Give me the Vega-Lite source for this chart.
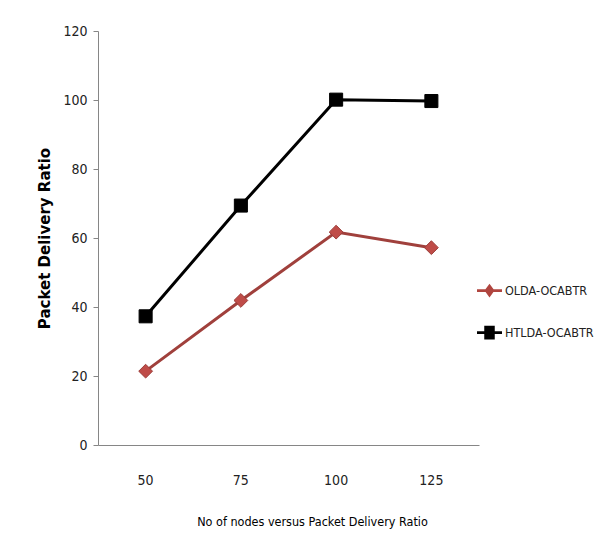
{
  "$schema": "https://vega.github.io/schema/vega-lite/v6.json",
  "autosize": "none",
  "width": 381,
  "height": 414,
  "padding": {"left": 98, "top": 31, "right": 123, "bottom": 112},
  "background": "white",
  "config": {
    "view": {"stroke": null},
    "font": "DejaVu Sans Condensed"
  },
  "data": {
    "values": [
      {"nodes": "50", "series": "OLDA-OCABTR", "pdr": 21.4},
      {"nodes": "75", "series": "OLDA-OCABTR", "pdr": 41.9},
      {"nodes": "100", "series": "OLDA-OCABTR", "pdr": 61.7},
      {"nodes": "125", "series": "OLDA-OCABTR", "pdr": 57.2},
      {"nodes": "50", "series": "HTLDA-OCABTR", "pdr": 37.3},
      {"nodes": "75", "series": "HTLDA-OCABTR", "pdr": 69.4},
      {"nodes": "100", "series": "HTLDA-OCABTR", "pdr": 100.1},
      {"nodes": "125", "series": "HTLDA-OCABTR", "pdr": 99.7}
    ]
  },
  "encoding": {
    "x": {
      "field": "nodes",
      "type": "ordinal",
      "sort": ["50", "75", "100", "125"],
      "scale": {"type": "band", "paddingInner": 0, "paddingOuter": 0},
      "axis": {
        "title": "No of nodes versus Packet Delivery Ratio",
        "titleFont": "DejaVu Sans Condensed",
        "titleFontSize": 12.5,
        "titleFontWeight": "normal",
        "titleColor": "#000000",
        "titlePadding": 28,
        "titleX": 214,
        "titleAnchor": "middle",
        "labelAngle": 0,
        "labelFont": "DejaVu Sans Condensed",
        "labelFontSize": 14,
        "labelColor": "#222222",
        "labelPadding": 28,
        "ticks": false,
        "domainColor": "#868686",
        "domainWidth": 1,
        "grid": false
      }
    },
    "y": {
      "field": "pdr",
      "type": "quantitative",
      "scale": {"domain": [0, 120], "nice": false},
      "axis": {
        "title": "Packet Delivery Ratio",
        "titleFont": "DejaVu Sans",
        "titleFontSize": 15,
        "titleFontWeight": "bold",
        "titleColor": "#000000",
        "titlePadding": 10,
        "values": [0, 20, 40, 60, 80, 100, 120],
        "labelFont": "DejaVu Sans Condensed",
        "labelFontSize": 14,
        "labelColor": "#222222",
        "labelPadding": 6,
        "tickSize": 5,
        "tickColor": "#868686",
        "domainColor": "#868686",
        "grid": false
      }
    }
  },
  "layer": [
    {
      "transform": [{"filter": "datum.series === 'OLDA-OCABTR'"}],
      "mark": {"type": "line", "strokeWidth": 3, "color": "#a0403c"}
    },
    {
      "transform": [{"filter": "datum.series === 'HTLDA-OCABTR'"}],
      "mark": {"type": "line", "strokeWidth": 3, "color": "#000000"}
    },
    {
      "transform": [{"filter": "datum.series === 'OLDA-OCABTR'"}],
      "mark": {"type": "point", "shape": "diamond", "filled": true, "opacity": 1, "fill": "#bf4c48", "stroke": "#9c3d39", "strokeWidth": 1, "size": 190}
    },
    {
      "transform": [{"filter": "datum.series === 'HTLDA-OCABTR'"}],
      "mark": {"type": "point", "shape": "square", "filled": true, "opacity": 1, "fill": "#000000", "stroke": "#000000", "strokeWidth": 1, "size": 170}
    },
    {
      "mark": {"type": "point", "filled": true, "opacity": 1, "size": 0},
      "encoding": {
        "color": {
          "field": "series",
          "type": "nominal",
          "scale": {"domain": ["OLDA-OCABTR", "HTLDA-OCABTR"], "range": ["#b0453f", "#000000"]},
          "legend": {
            "orient": "none",
            "legendX": 379,
            "legendY": 247,
            "title": null,
            "symbolSize": 625,
            "symbolOpacity": 1,
            "symbolStrokeWidth": 0,
            "rowPadding": 22,
            "labelFont": "DejaVu Sans Condensed",
            "labelFontSize": 12.5,
            "labelColor": "#222222",
            "labelOffset": 3
          }
        },
        "shape": {
          "field": "series",
          "type": "nominal",
          "scale": {"domain": ["OLDA-OCABTR", "HTLDA-OCABTR"], "range": ["M-1,-0.11H1V0.11H-1Z M0,-0.55L0.4,0L0,0.55L-0.4,0Z", "M-1,-0.11H1V0.11H-1Z M-0.42,-0.55H0.42V0.55H-0.42Z"]}
        }
      }
    }
  ]
}
